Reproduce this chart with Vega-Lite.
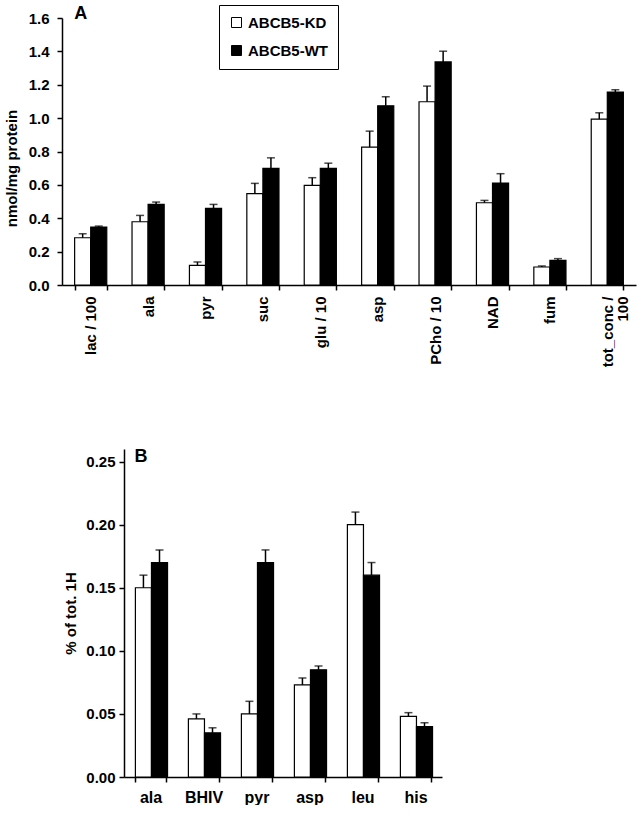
{
  "$schema": "https://vega.github.io/schema/vega-lite/v6.json",
  "background": "white",
  "padding": {"left": 4, "top": 4, "right": 2, "bottom": 0},
  "config": {
    "view": {"stroke": null},
    "font": "Liberation Sans",
    "axis": {
      "grid": false,
      "domainColor": "black",
      "domainWidth": 1.5,
      "tickColor": "black",
      "tickWidth": 1.5,
      "tickSize": 5,
      "labelColor": "black",
      "labelFont": "Liberation Sans",
      "labelFontWeight": "bold",
      "labelFontSize": 15,
      "labelOverlap": false,
      "titleColor": "black",
      "titleFont": "Liberation Sans",
      "titleFontWeight": "bold",
      "titleFontSize": 15
    },
    "legend": {
      "labelFont": "Liberation Sans",
      "labelFontWeight": "bold",
      "labelFontSize": 15,
      "labelColor": "black",
      "symbolType": "square",
      "symbolSize": 100,
      "symbolStrokeColor": "black",
      "symbolStrokeWidth": 1,
      "strokeColor": "black",
      "labelOffset": 4
    }
  },
  "spacing": 80,
  "vconcat": [
    {
      "width": 574,
      "height": 267,
      "data": {
        "values": [
          {"metabolite": "lac / 100", "strain": "ABCB5-KD", "mean": 0.283, "upper": 0.307},
          {"metabolite": "lac / 100", "strain": "ABCB5-WT", "mean": 0.347, "upper": 0.353},
          {"metabolite": "ala", "strain": "ABCB5-KD", "mean": 0.379, "upper": 0.417},
          {"metabolite": "ala", "strain": "ABCB5-WT", "mean": 0.483, "upper": 0.497},
          {"metabolite": "pyr", "strain": "ABCB5-KD", "mean": 0.118, "upper": 0.138},
          {"metabolite": "pyr", "strain": "ABCB5-WT", "mean": 0.459, "upper": 0.483},
          {"metabolite": "suc", "strain": "ABCB5-KD", "mean": 0.547, "upper": 0.609},
          {"metabolite": "suc", "strain": "ABCB5-WT", "mean": 0.699, "upper": 0.762},
          {"metabolite": "glu / 10", "strain": "ABCB5-KD", "mean": 0.597, "upper": 0.643},
          {"metabolite": "glu / 10", "strain": "ABCB5-WT", "mean": 0.699, "upper": 0.730},
          {"metabolite": "asp", "strain": "ABCB5-KD", "mean": 0.826, "upper": 0.922},
          {"metabolite": "asp", "strain": "ABCB5-WT", "mean": 1.074, "upper": 1.128},
          {"metabolite": "PCho / 10", "strain": "ABCB5-KD", "mean": 1.098, "upper": 1.192},
          {"metabolite": "PCho / 10", "strain": "ABCB5-WT", "mean": 1.337, "upper": 1.401},
          {"metabolite": "NAD", "strain": "ABCB5-KD", "mean": 0.493, "upper": 0.507},
          {"metabolite": "NAD", "strain": "ABCB5-WT", "mean": 0.611, "upper": 0.667},
          {"metabolite": "fum", "strain": "ABCB5-KD", "mean": 0.108, "upper": 0.114},
          {"metabolite": "fum", "strain": "ABCB5-WT", "mean": 0.148, "upper": 0.158},
          {"metabolite": "tot_conc / 100", "strain": "ABCB5-KD", "mean": 0.994, "upper": 1.032},
          {"metabolite": "tot_conc / 100", "strain": "ABCB5-WT", "mean": 1.156, "upper": 1.170}
        ]
      },
      "layer": [
        {
          "mark": {"type": "bar", "stroke": "black", "strokeWidth": 1.2},
          "encoding": {
            "x": {
              "field": "metabolite", "type": "nominal", "title": null,
              "scale": {"domain": ["lac / 100", "ala", "pyr", "suc", "glu / 10", "asp", "PCho / 10", "NAD", "fum", "tot_conc / 100"], "paddingInner": 0.44, "paddingOuter": 0.22},
              "axis": {"labelAngle": -90, "tickBand": "extent", "labelPadding": 6, "labelLineHeight": 15,
                "labelExpr": "datum.label == 'tot_conc / 100' ? ['tot_conc /', '100\u00a0\u00a0\u00a0\u00a0\u00a0\u00a0'] : datum.label"}
            },
            "xOffset": {"field": "strain", "type": "nominal", "scale": {"domain": ["ABCB5-KD", "ABCB5-WT"]}},
            "y": {
              "field": "mean", "type": "quantitative", "title": "nmol/mg protein",
              "scale": {"domain": [0, 1.6]},
              "axis": {"values": [0, 0.2, 0.4, 0.6, 0.8, 1.0, 1.2, 1.4, 1.6], "labelOverlap": false, "labelSeparation": 0, "format": ".1f", "labelPadding": 8, "titlePadding": 9, "titleY": 150}
            },
            "fill": {
              "field": "strain", "type": "nominal",
              "scale": {"domain": ["ABCB5-KD", "ABCB5-WT"], "range": ["white", "black"]},
              "legend": {"title": null, "orient": "none", "legendX": 157, "legendY": -13, "padding": 10, "rowPadding": 12}
            }
          }
        },
        {
          "mark": {"type": "rule", "strokeWidth": 1.5, "color": "black"},
          "encoding": {
            "x": {"field": "metabolite", "type": "nominal"},
            "xOffset": {"field": "strain", "type": "nominal"},
            "y": {"field": "mean", "type": "quantitative", "title": "nmol/mg protein",
              "axis": {"values": [0, 0.2, 0.4, 0.6, 0.8, 1.0, 1.2, 1.4, 1.6], "labelOverlap": false, "labelSeparation": 0, "format": ".1f", "labelPadding": 8, "titlePadding": 9, "titleY": 150}},
            "y2": {"field": "upper"}
          }
        },
        {
          "mark": {"type": "tick", "size": 8, "thickness": 1.5, "color": "black"},
          "encoding": {
            "x": {"field": "metabolite", "type": "nominal"},
            "xOffset": {"field": "strain", "type": "nominal"},
            "y": {"field": "upper", "type": "quantitative", "title": "nmol/mg protein",
              "axis": {"values": [0, 0.2, 0.4, 0.6, 0.8, 1.0, 1.2, 1.4, 1.6], "labelOverlap": false, "labelSeparation": 0, "format": ".1f", "labelPadding": 8, "titlePadding": 9, "titleY": 150}}
          }
        },
        {
          "data": {"values": [{"panel": "A"}]},
          "mark": {"type": "text", "fontSize": 18, "fontWeight": "bold", "font": "Liberation Sans", "align": "center", "baseline": "alphabetic", "dx": -10, "dy": 1, "color": "black"},
          "encoding": {
            "x": {"datum": "lac / 100"},
            "y": {"datum": 1.6, "type": "quantitative", "title": "nmol/mg protein",
              "axis": {"values": [0, 0.2, 0.4, 0.6, 0.8, 1.0, 1.2, 1.4, 1.6], "labelOverlap": false, "labelSeparation": 0, "format": ".1f", "labelPadding": 8, "titlePadding": 9, "titleY": 150}},
            "text": {"field": "panel"}
          }
        }
      ]
    },
    {
      "spacing": 0,
      "hconcat": [
        {
          "width": 1,
          "height": 10,
          "data": {"values": [{"s": 1}]},
          "mark": {"type": "point", "size": 0, "opacity": 0},
          "encoding": {}
        },
        {
          "width": 318,
          "height": 328,
          "data": {
            "values": [
              {"metabolite": "ala", "strain": "ABCB5-KD", "mean": 0.150, "upper": 0.160},
              {"metabolite": "ala", "strain": "ABCB5-WT", "mean": 0.170, "upper": 0.180},
              {"metabolite": "BHIV", "strain": "ABCB5-KD", "mean": 0.046, "upper": 0.050},
              {"metabolite": "BHIV", "strain": "ABCB5-WT", "mean": 0.035, "upper": 0.039},
              {"metabolite": "pyr", "strain": "ABCB5-KD", "mean": 0.050, "upper": 0.060},
              {"metabolite": "pyr", "strain": "ABCB5-WT", "mean": 0.170, "upper": 0.180},
              {"metabolite": "asp", "strain": "ABCB5-KD", "mean": 0.073, "upper": 0.0785},
              {"metabolite": "asp", "strain": "ABCB5-WT", "mean": 0.085, "upper": 0.088},
              {"metabolite": "leu", "strain": "ABCB5-KD", "mean": 0.200, "upper": 0.210},
              {"metabolite": "leu", "strain": "ABCB5-WT", "mean": 0.160, "upper": 0.170},
              {"metabolite": "his", "strain": "ABCB5-KD", "mean": 0.048, "upper": 0.051},
              {"metabolite": "his", "strain": "ABCB5-WT", "mean": 0.040, "upper": 0.043}
            ]
          },
          "layer": [
            {
              "mark": {"type": "bar", "stroke": "black", "strokeWidth": 1.2},
              "encoding": {
                "x": {
                  "field": "metabolite", "type": "nominal", "title": null,
                  "scale": {"domain": ["ala", "BHIV", "pyr", "asp", "leu", "his"], "paddingInner": 0.43, "paddingOuter": 0.215},
                  "axis": {"labelAngle": 0, "tickBand": "extent", "labelPadding": 7, "labelFontSize": 16}
                },
                "xOffset": {"field": "strain", "type": "nominal", "scale": {"domain": ["ABCB5-KD", "ABCB5-WT"]}},
                "y": {
                  "field": "mean", "type": "quantitative", "title": "% of tot. 1H",
                  "scale": {"domain": [0, 0.25]},
                  "axis": {"values": [0, 0.05, 0.1, 0.15, 0.2, 0.25], "format": ".2f", "labelPadding": 4, "titlePadding": 7}
                },
                "fill": {
                  "field": "strain", "type": "nominal",
                  "scale": {"domain": ["ABCB5-KD", "ABCB5-WT"], "range": ["white", "black"]},
                  "legend": {"title": null, "orient": "none", "legendX": 72, "legendY": -15, "padding": 10, "rowPadding": 16}
                }
              }
            },
            {
              "mark": {"type": "rule", "strokeWidth": 1.5, "color": "black"},
              "encoding": {
                "x": {"field": "metabolite", "type": "nominal"},
                "xOffset": {"field": "strain", "type": "nominal"},
                "y": {"field": "mean", "type": "quantitative"},
                "y2": {"field": "upper"}
              }
            },
            {
              "mark": {"type": "tick", "size": 8, "thickness": 1.5, "color": "black"},
              "encoding": {
                "x": {"field": "metabolite", "type": "nominal"},
                "xOffset": {"field": "strain", "type": "nominal"},
                "y": {"field": "upper", "type": "quantitative"}
              }
            },
            {
              "data": {"values": [{"panel": "B"}]},
              "mark": {"type": "text", "fontSize": 18, "fontWeight": "bold", "font": "Liberation Sans", "align": "center", "baseline": "alphabetic", "dx": -9.5, "dy": 0, "color": "black"},
              "encoding": {
                "x": {"datum": "ala"},
                "y": {"datum": 0.25},
                "text": {"field": "panel"}
              }
            }
          ]
        }
      ]
    }
  ]
}
